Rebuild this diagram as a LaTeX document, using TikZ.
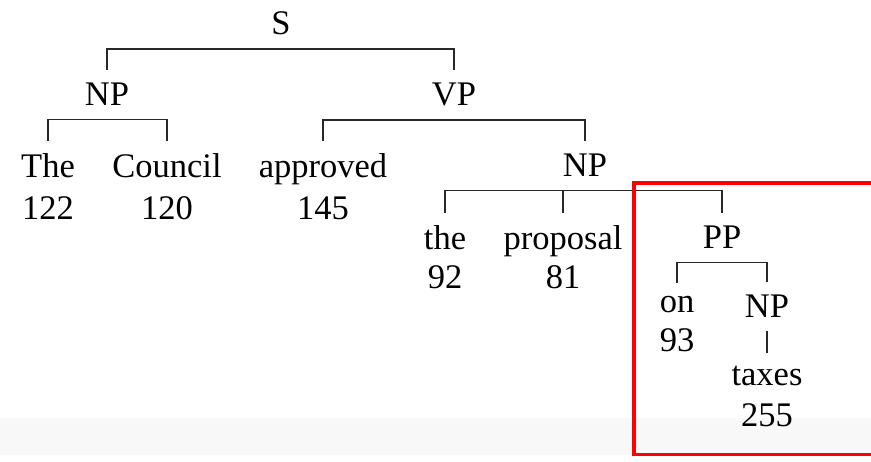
\documentclass[tikz,border=0pt]{standalone}
\usepackage{fontspec}
\setmainfont{Liberation Serif}
\definecolor{band}{RGB}{248,248,248}
\definecolor{boxred}{RGB}{255,0,0}
\definecolor{linegray}{RGB}{40,40,40}
\begin{document}
\begin{tikzpicture}[x=1pt,y=-1pt,
  lbl/.style={inner sep=0pt, outer sep=0pt, outer ysep=13.5pt, anchor=base,
              font=\fontsize{34.5}{40}\selectfont},
  edge/.style={line width=1.5pt, draw=linegray},
  hilite/.style={draw=boxred, line width=3.5pt}]
\useasboundingbox (0,0) rectangle (871,462);
\fill[band] (0,418) rectangle (871,455);
% phrase labels
\node[lbl] (s)   at (281,35)  {S};
\node[lbl] (np1) at (107,106) {NP};
\node[lbl] (vp)  at (454,106) {VP};
\node[lbl] (np2) at (585,177) {NP};
\node[lbl] (pp)  at (722,249) {PP};
\node[lbl] (np3) at (767,318) {NP};
% words
\node[lbl] (w1) at (48,178)  {The};
\node[lbl] (n1) at (48,220)  {122};
\node[lbl] (w2) at (167,178) {Council};
\node[lbl] (n2) at (167,220) {120};
\node[lbl] (w3) at (323,178) {approved};
\node[lbl] (n3) at (323,220) {145};
\node[lbl] (w4) at (445,250) {the};
\node[lbl] (n4) at (445,289) {92};
\node[lbl] (w5) at (563,250) {proposal};
\node[lbl] (n5) at (563,289) {81};
\node[lbl] (w6) at (677,313) {on};
\node[lbl] (n6) at (677,352) {93};
\node[lbl] (w7) at (767,386) {taxes};
\node[lbl] (n7) at (767,427) {255};
% connectors
\draw[edge] (np1.north) |- (vp.north |- s.south) -- (vp.north);
\draw[edge] (w1.north) |- (w2.north |- np1.south) -- (w2.north);
\draw[edge] (w3.north) |- (np2.north |- vp.south) -- (np2.north);
\draw[edge] (w4.north) |- (pp.north |- np2.south) -- (pp.north);
\draw[edge] (w5.north) -- (w5.north |- np2.south);
\draw[edge] (w6.north) |- (np3.north |- pp.south) -- (np3.north);
\draw[edge] (np3.south) -- (w7.north);
% highlight box
\begin{scope}
\clip (0,0) rectangle (871,462);
\draw[hilite] (634,183) rectangle (895,454.5);
\end{scope}
\end{tikzpicture}
\end{document}
